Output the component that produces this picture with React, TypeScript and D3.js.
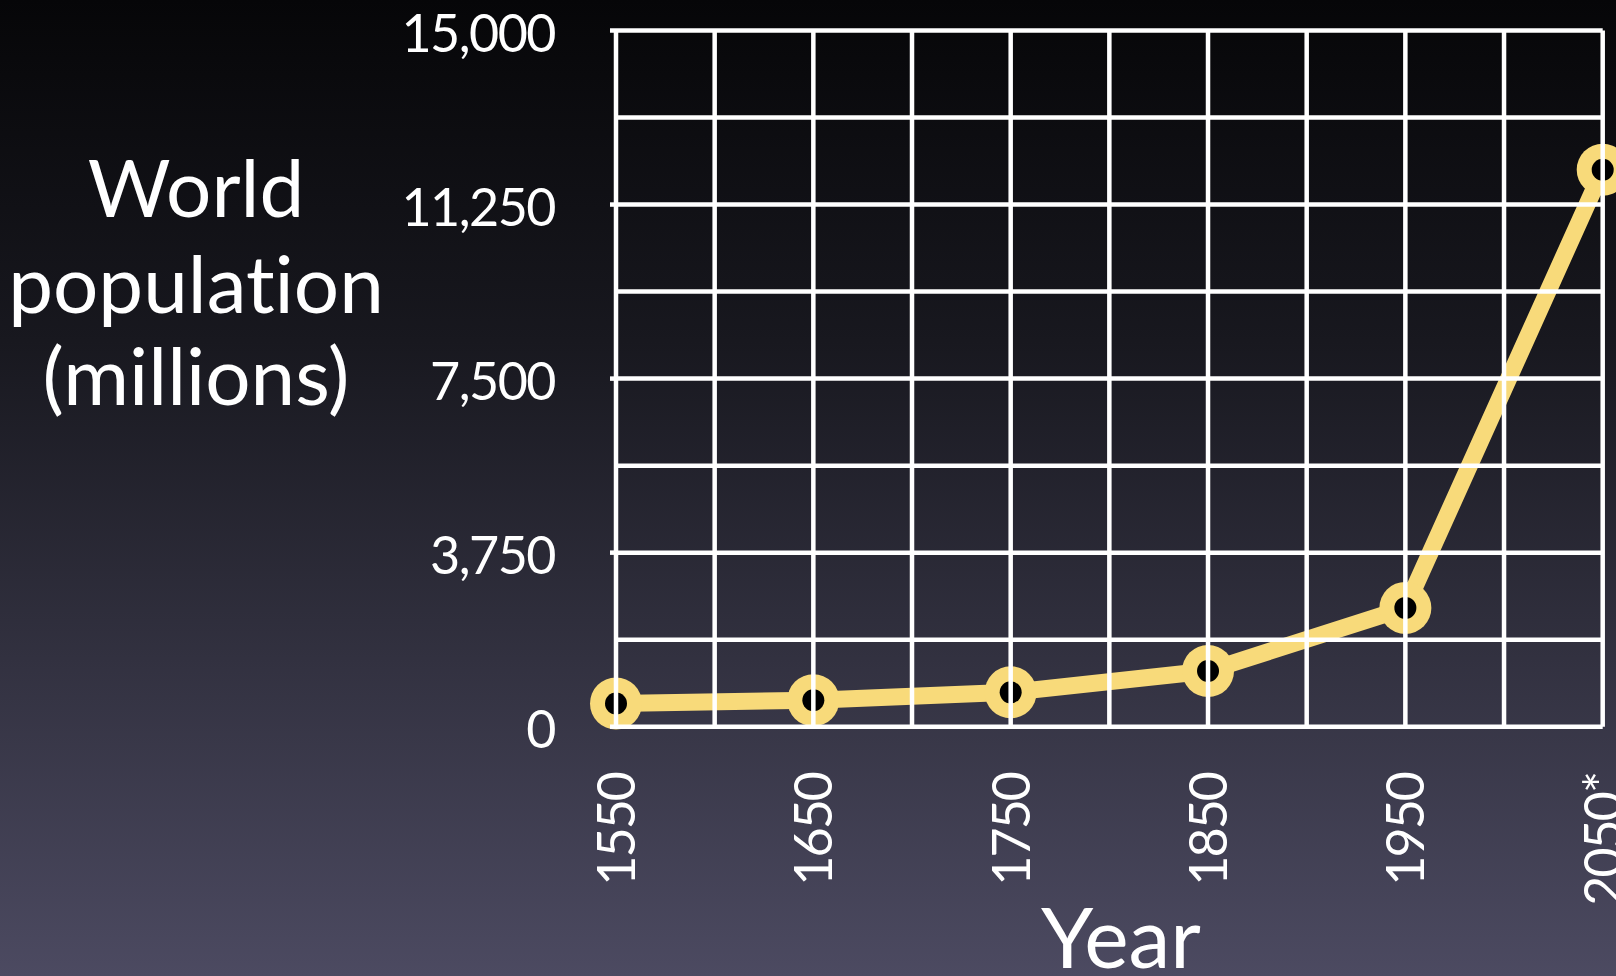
import React from "react";
import * as d3 from "d3";

// World population, millions (2050 is a projection)
const years = [1550, 1650, 1750, 1850, 1950, 2050];
const population = [500, 570, 740, 1200, 2560, 12000];
const yearLabels = ["1550", "1650", "1750", "1850", "1950", "2050*"];
const yTickValues = [0, 3750, 7500, 11250, 15000];
const yTitleLines = ["World", "population", "(millions)"];
const xTitle = "Year";

const W = 1616;
const H = 976;
const FONT = "Lato, 'Open Sans', sans-serif";
const GOLD = "#f8da7a";

export default function App() {
  const x = d3.scaleLinear().domain([1550, 2050]).range([616, 1602.7]);
  const y = d3.scaleLinear().domain([0, 15000]).range([726.7, 30.5]);

  const vGrid = d3.range(1550, 2051, 50);
  const hGrid = d3.range(0, 15001, 1875);

  const pts = years.map((yr, i) => [x(yr), y(population[i])] as [number, number]);
  const linePath = d3.line()(pts) ?? "";

  const fmt = d3.format(",");

  return (
    <svg
      width={W}
      height={H}
      style={{
        position: "fixed",
        left: 0,
        top: 0,
        display: "block",
        fontVariantLigatures: "none",
        fontFeatureSettings: "'liga' 0, 'clig' 0",
      }}
      fontFamily={FONT}
    >
      <defs>
        <linearGradient id="bg" x1="0" y1="0" x2="0" y2="1">
          <stop offset="0" stopColor="#060608" />
          <stop offset="0.35" stopColor="#18181f" />
          <stop offset="1" stopColor="#4c4a61" />
        </linearGradient>
      </defs>
      <rect width={W} height={H} fill="url(#bg)" />

      {/* population line and markers */}
      <path
        d={linePath}
        fill="none"
        stroke={GOLD}
        strokeWidth={17}
        strokeLinejoin="round"
      />
      {pts.map(([px, py], i) => (
        <g key={i}>
          <circle cx={px} cy={py} r={26} fill={GOLD} />
          <circle cx={px} cy={py} r={11} fill="#000" />
        </g>
      ))}

      {/* grid drawn over the data */}
      <g stroke="#fff" strokeWidth={4.5}>
        {vGrid.map((v) => (
          <line key={"v" + v} x1={x(v)} x2={x(v)} y1={y(15000)} y2={y(0)} />
        ))}
        {hGrid.map((v) => (
          <line key={"h" + v} x1={x(1550)} x2={x(2050)} y1={y(v)} y2={y(v)} />
        ))}
        {yTickValues.map((v) => (
          <line key={"t" + v} x1={x(1550) - 6} x2={x(1550)} y1={y(v)} y2={y(v)} />
        ))}
      </g>

      {/* y tick labels */}
      <g fill="#fff" fontSize={52} textAnchor="end" letterSpacing={-1.5}>
        {yTickValues.map((v) => (
          <text key={v} x={555} y={y(v) + 21}>
            {fmt(v)}
          </text>
        ))}
      </g>

      {/* x tick labels, rotated */}
      <g fill="#fff" fontSize={52} textAnchor="end" letterSpacing={-2}>
        {years.map((yr, i) => (
          <text
            key={yr}
            transform={`translate(${x(yr) + 19},773) rotate(-90)`}
          >
            {yearLabels[i]}
          </text>
        ))}
      </g>

      {/* axis titles */}
      <g fill="#fff" fontSize={80} textAnchor="middle">
        {yTitleLines.map((t, i) => (
          <text key={t} x={196} y={[216.7, 312.7, 405][i]}>
            {t}
          </text>
        ))}
      </g>
      <text x={1121} y={968} fill="#fff" fontSize={84} textAnchor="middle">
        {xTitle}
      </text>
    </svg>
  );
}
